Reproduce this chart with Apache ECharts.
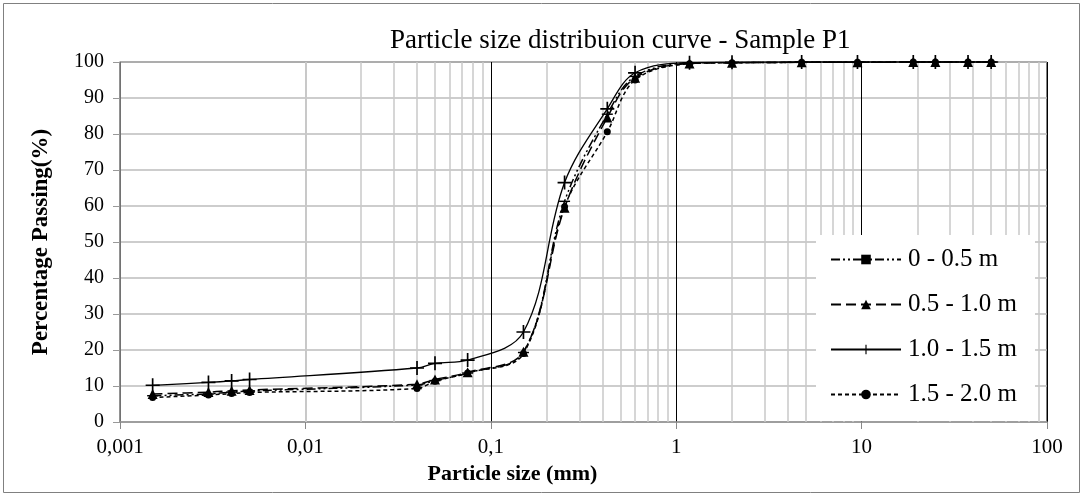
<!DOCTYPE html>
<html>
<head>
<meta charset="utf-8">
<script src="https://cdn.jsdelivr.net/npm/echarts@6/dist/echarts.min.js"></script>
<style>html,body{margin:0;padding:0;background:#fff}#c{width:1084px;height:497px}</style>
</head>
<body>
<div id="c"></div>
<script>
const sizes = [0.0015, 0.003, 0.004, 0.005, 0.04, 0.05, 0.075, 0.15, 0.25, 0.425, 0.6, 1.18, 2, 4.75, 9.5, 19, 25, 37.5, 50];
const s00_05 = [7.3, 7.8, 8.3, 8.6, 10.3, 11.5, 13.6, 19.3, 61.3, 85.5, 96.0, 99.7, 99.8, 99.9, 99.9, 100, 100, 100, 100];
const s05_10 = [7.8, 8.3, 8.7, 8.9, 10.5, 11.8, 13.8, 19.5, 59.5, 84.6, 95.6, 99.6, 99.8, 99.9, 99.9, 100, 100, 100, 100];
const s10_15 = [10.2, 11.0, 11.4, 11.8, 15.0, 16.3, 17.2, 25.0, 66.5, 87.0, 97.0, 99.8, 99.9, 100, 100, 100, 100, 100, 100];
const s15_20 = [6.8, 7.5, 7.9, 8.2, 9.3, 11.3, 13.6, 19.0, 59.8, 80.6, 95.0, 99.5, 99.8, 99.9, 99.9, 100, 100, 100, 100];
const seriesNames = ['0 - 0.5 m', '0.5 - 1.0 m', '1.0 - 1.5 m', '1.5 - 2.0 m'];
const xTickLabels = {0.001: '0,001', 0.01: '0,01', 0.1: '0,1', 1: '1', 10: '10', 100: '100'};
const title = 'Particle size distribuion curve - Sample P1';
const xName = 'Particle size (mm)';
const yName = 'Percentage Passing(%)';

const FONT = 'Liberation Serif';
const pair = arr => sizes.map((x, i) => [x, arr[i]]);
const minorVals = [];
[0.001, 0.01, 0.1, 1, 10].forEach(d => { for (let k = 2; k <= 9; k++) minorVals.push(+(k * d).toPrecision(3)); });

const plusPath = 'path://M4.4,0 H5.6 V4.4 H10 V5.6 H5.6 V10 H4.4 V5.6 H0 V4.4 H4.4 Z';
const barPath = 'path://M0,0 H11 V4 H0 Z';

const chart = echarts.init(document.getElementById('c'), null, {renderer: 'canvas'});
const base = {type: 'line', smooth: 0.35, clip: false, z: 3, color: '#000', symbolKeepAspect: true};
chart.setOption({
  animation: false,
  backgroundColor: '#fff',
  title: {text: title, left: 385, top: 22, textStyle: {fontFamily: FONT, fontSize: 27, fontWeight: 'normal', color: '#000'}},
  graphic: [{type: 'rect', shape: {x: 3.5, y: 3.5, width: 1076, height: 489}, style: {fill: 'none', stroke: '#808080', lineWidth: 1}, silent: true, z: -1}],
  grid: {left: 120, right: 37, top: 62, bottom: 75, show: true, borderColor: '#000', borderWidth: 1},
  legend: {
    data: seriesNames, orient: 'vertical', left: 816, top: 235, z: 10,
    backgroundColor: '#fff', padding: [12, 18, 14, 14], itemGap: 20,
    itemWidth: 70, itemHeight: 12,
    textStyle: {fontFamily: FONT, fontSize: 25, color: '#000', padding: [0, 0, 0, 2]}
  },
  xAxis: {
    type: 'log', logBase: 10, min: 0.001, max: 100,
    name: xName, nameLocation: 'middle', nameGap: 40,
    nameTextStyle: {fontFamily: FONT, fontSize: 22, fontWeight: 'bold', color: '#000', padding: [0, 142, 0, 0]},
    axisLine: {lineStyle: {color: '#999', width: 1.5}},
    axisTick: {show: true, length: 7, lineStyle: {color: '#888'}},
    axisLabel: {margin: 15, fontFamily: FONT, fontSize: 21, color: '#000', formatter: v => xTickLabels[+v.toPrecision(3)] || ''},
    splitLine: {show: true, lineStyle: {color: '#000', width: 1}}
  },
  yAxis: {
    type: 'value', min: 0, max: 100, interval: 10,
    name: yName, nameLocation: 'middle', nameGap: 67,
    nameTextStyle: {fontFamily: FONT, fontSize: 23, fontWeight: 'bold', color: '#000'},
    axisLine: {show: true, lineStyle: {color: '#999', width: 1.5}},
    axisTick: {show: true, length: 7, lineStyle: {color: '#999'}},
    axisLabel: {margin: 16, fontFamily: FONT, fontSize: 20, color: '#000'},
    splitLine: {show: true, lineStyle: {color: '#bdbdbd', width: 1.5}}
  },
  series: [
    {type: 'line', name: 'minor', data: [], silent: true, z: 1,
     markLine: {silent: true, z: 1, symbol: 'none', label: {show: false},
       lineStyle: {color: '#c8c8c8', type: 'solid', width: 1.5},
       data: minorVals.map(v => ({xAxis: v}))}},
    Object.assign({}, base, {name: seriesNames[0], data: pair(s00_05),
      symbol: barPath, symbolSize: [11, 4],
      lineStyle: {color: '#000', width: 1.5, type: [9, 3, 2, 3, 2, 3]}, itemStyle: {color: '#000'}}),
    Object.assign({}, base, {name: seriesNames[1], data: pair(s05_10),
      symbol: 'triangle', symbolSize: 10,
      lineStyle: {color: '#000', width: 1.5, type: [10, 5]}, itemStyle: {color: '#000'}}),
    Object.assign({}, base, {name: seriesNames[2], data: pair(s10_15),
      symbol: plusPath, symbolSize: 14,
      lineStyle: {color: '#000', width: 1.3, type: 'solid'}, itemStyle: {color: '#000'}}),
    Object.assign({}, base, {name: seriesNames[3], data: pair(s15_20),
      symbol: 'circle', symbolSize: 7,
      lineStyle: {color: '#000', width: 1.5, type: [4, 3]}, itemStyle: {color: '#000'}})
  ]
});
</script>
</body>
</html>
